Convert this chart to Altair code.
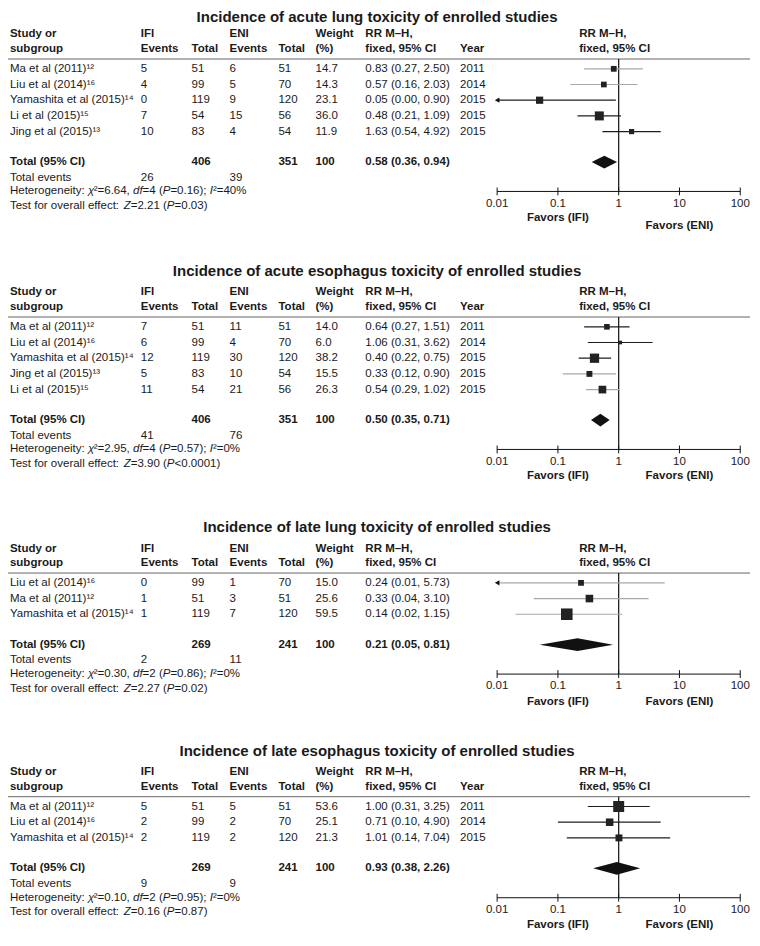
import altair as alt
import pandas as pd

# ---------------- data ----------------
titles = [
    "Incidence of acute lung toxicity of enrolled studies",
    "Incidence of acute esophagus toxicity of enrolled studies",
    "Incidence of late lung toxicity of enrolled studies",
    "Incidence of late esophagus toxicity of enrolled studies",
]

# panel 1: acute lung toxicity
al_study = ["Ma et al (2011)¹²", "Liu et al (2014)¹⁶", "Yamashita et al (2015)¹⁴", "Li et al (2015)¹⁵", "Jing et al (2015)¹³"]
al_ifi_events = [5, 4, 0, 7, 10]
al_ifi_total = [51, 99, 119, 54, 83]
al_eni_events = [6, 5, 9, 15, 4]
al_eni_total = [51, 70, 120, 56, 54]
al_weight = [14.7, 14.3, 23.1, 36.0, 11.9]
al_rr = [0.83, 0.57, 0.05, 0.48, 1.63]
al_lo = [0.27, 0.16, 0.00, 0.21, 0.54]
al_hi = [2.50, 2.03, 0.90, 1.09, 4.92]
al_year = [2011, 2014, 2015, 2015, 2015]
al_pooled = [0.58, 0.36, 0.94]
al_het = ["6.64", "4", "0.16", "40"]
al_z = ["2.21", "=0.03"]

# panel 2: acute esophagus toxicity
ae_study = ["Ma et al (2011)¹²", "Liu et al (2014)¹⁶", "Yamashita et al (2015)¹⁴", "Jing et al (2015)¹³", "Li et al (2015)¹⁵"]
ae_ifi_events = [7, 6, 12, 5, 11]
ae_ifi_total = [51, 99, 119, 83, 54]
ae_eni_events = [11, 4, 30, 10, 21]
ae_eni_total = [51, 70, 120, 54, 56]
ae_weight = [14.0, 6.0, 38.2, 15.5, 26.3]
ae_rr = [0.64, 1.06, 0.40, 0.33, 0.54]
ae_lo = [0.27, 0.31, 0.22, 0.12, 0.29]
ae_hi = [1.51, 3.62, 0.75, 0.90, 1.02]
ae_year = [2011, 2014, 2015, 2015, 2015]
ae_pooled = [0.50, 0.35, 0.71]
ae_het = ["2.95", "4", "0.57", "0"]
ae_z = ["3.90", "<0.0001"]

# panel 3: late lung toxicity
ll_study = ["Liu et al (2014)¹⁶", "Ma et al (2011)¹²", "Yamashita et al (2015)¹⁴"]
ll_ifi_events = [0, 1, 1]
ll_ifi_total = [99, 51, 119]
ll_eni_events = [1, 3, 7]
ll_eni_total = [70, 51, 120]
ll_weight = [15.0, 25.6, 59.5]
ll_rr = [0.24, 0.33, 0.14]
ll_lo = [0.01, 0.04, 0.02]
ll_hi = [5.73, 3.10, 1.15]
ll_year = None
ll_pooled = [0.21, 0.05, 0.81]
ll_het = ["0.30", "2", "0.86", "0"]
ll_z = ["2.27", "=0.02"]

# panel 4: late esophagus toxicity
le_study = ["Ma et al (2011)¹²", "Liu et al (2014)¹⁶", "Yamashita et al (2015)¹⁴"]
le_ifi_events = [5, 2, 2]
le_ifi_total = [51, 99, 119]
le_eni_events = [5, 2, 2]
le_eni_total = [51, 70, 120]
le_weight = [53.6, 25.1, 21.3]
le_rr = [1.00, 0.71, 1.01]
le_lo = [0.31, 0.10, 0.14]
le_hi = [3.25, 4.90, 7.04]
le_year = [2011, 2014, 2015]
le_pooled = [0.93, 0.38, 2.26]
le_het = ["0.10", "2", "0.95", "0"]
le_z = ["0.16", "=0.87"]

tick_values = [0.01, 0.1, 1, 10, 100]
tick_labels = ["0.01", "0.1", "1", "10", "100"]
favors = ["Favors (IFI)", "Favors (ENI)"]
favors_at = [0.1, 10]

# ---------------- layout / styles ----------------
W, H = 742, 928
SXR = W / 760.0
FONT = "Liberation Sans, Arial, Helvetica, sans-serif"
FS = 11.5
TXT = "#1a1a1a"
GRAY = "#a8a8a8"
DARK = "#1e1e1e"

COL = dict(study=2, ifi_ev=136, ifi_tot=188, eni_ev=227, eni_tot=277,
           weight=315, rr=366, year=463, fhead=585)
PANEL_TOP = [7, 270, 531, 759]
TITLE_Y = [9, 268, 529, 757]
ci_colors = [
    [GRAY, GRAY, DARK, DARK, DARK],
    [DARK, DARK, DARK, GRAY, GRAY],
    [GRAY, GRAY, GRAY],
    [DARK, DARK, DARK],
]
favor_dy = [(27, 35), (27, 27), (28, 28), (28, 28)]
TICK_DY = 12.5

# Arial / Liberation Sans advance widths (1/1000 em) for placing italic runs
AW = {" ": 278, "%": 889, "(": 333, ")": 333, ",": 278, ".": 278, ":": 278, ";": 278,
      "<": 584, "=": 584, "²": 333, "χ": 500,
      "H": 722, "T": 611, "P": 667, "I": 278, "Z": 611,
      "a": 556, "c": 500, "d": 556, "e": 556, "f": 278, "g": 556, "h": 556, "i": 222,
      "l": 222, "n": 556, "o": 556, "r": 333, "s": 500, "t": 278, "v": 500, "y": 500}


def tw(s):
    return sum(AW.get(ch, 556) for ch in s) * FS / 1000.0 / SXR


panels = [
    (al_study, al_ifi_events, al_ifi_total, al_eni_events, al_eni_total, al_weight, al_rr, al_lo, al_hi, al_year, al_pooled, al_het, al_z),
    (ae_study, ae_ifi_events, ae_ifi_total, ae_eni_events, ae_eni_total, ae_weight, ae_rr, ae_lo, ae_hi, ae_year, ae_pooled, ae_het, ae_z),
    (ll_study, ll_ifi_events, ll_ifi_total, ll_eni_events, ll_eni_total, ll_weight, ll_rr, ll_lo, ll_hi, ll_year, ll_pooled, ll_het, ll_z),
    (le_study, le_ifi_events, le_ifi_total, le_eni_events, le_eni_total, le_weight, le_rr, le_lo, le_hi, le_year, le_pooled, le_het, le_z),
]

texts, hrules, vrules, cis, squares, arrows, diamonds = [], [], [], [], [], [], []
axis_lines, axis_ticks, axis_text = [], [], []

for p, (study, ie, it, ee, et, wt, rr, lo, hi, yr, pooled, het, z) in enumerate(panels):
    T = PANEL_TOP[p]

    def add(x, y, t, s):
        texts.append(dict(x=x, y=y, text=t, style=s))

    def add_runs(x, y, runs):
        for t, s in runs:
            add(x, y, t, s)
            x += tw(t)

    add(378, TITLE_Y[p], titles[p], "title")
    h1, h2 = T + 20, T + 35
    add(COL["study"], h1, "Study or", "bold"); add(COL["study"], h2, "subgroup", "bold")
    add(COL["ifi_ev"], h1, "IFI", "bold"); add(COL["ifi_ev"], h2, "Events", "bold")
    add(COL["ifi_tot"], h2, "Total", "bold")
    add(COL["eni_ev"], h1, "ENI", "bold"); add(COL["eni_ev"], h2, "Events", "bold")
    add(COL["eni_tot"], h2, "Total", "bold")
    add(COL["weight"], h1, "Weight", "bold"); add(COL["weight"], h2, "(%)", "bold")
    add(COL["rr"], h1, "RR M–H,", "bold"); add(COL["rr"], h2, "fixed, 95% CI", "bold")
    if yr is not None:
        add(COL["year"], h2, "Year", "bold")
    add(COL["fhead"], h1, "RR M–H,", "bold"); add(COL["fhead"], h2, "fixed, 95% CI", "bold")

    line_y = T + 45
    hrules.append(dict(x=0, x2=760, y=line_y))

    y = line_y
    for i in range(len(study)):
        y = T + 55 + 16 * i
        add(COL["study"], y, study[i], "reg")
        add(COL["ifi_ev"], y, str(ie[i]), "reg")
        add(COL["ifi_tot"], y, str(it[i]), "reg")
        add(COL["eni_ev"], y, str(ee[i]), "reg")
        add(COL["eni_tot"], y, str(et[i]), "reg")
        add(COL["weight"], y, f"{wt[i]:.1f}", "reg")
        add(COL["rr"], y, f"{rr[i]:.2f} ({lo[i]:.2f}, {hi[i]:.2f})", "reg")
        if yr is not None:
            add(COL["year"], y, str(yr[i]), "reg")
        clipped = lo[i] <= 0.01
        cis.append(dict(lo=max(lo[i], 0.01), hi=hi[i], y=y, c=ci_colors[p][i]))
        squares.append(dict(rr=rr[i], y=y, w=wt[i]))
        if clipped:
            arrows.append(dict(x=0.01, y=y))

    ty = y + 31
    add(COL["study"], ty, "Total (95% CI)", "bold")
    add(COL["ifi_tot"], ty, str(sum(it)), "bold")
    add(COL["eni_tot"], ty, str(sum(et)), "bold")
    add(COL["weight"], ty, "100", "bold")
    add(COL["rr"], ty, f"{pooled[0]:.2f} ({pooled[1]:.2f}, {pooled[2]:.2f})", "bold")
    for xv, yy, y2 in [(pooled[1], ty, ty), (pooled[0], ty - 6.5, ty + 6.5), (pooled[2], ty, ty)]:
        diamonds.append(dict(x=xv, y=yy, y2=y2, panel=p))

    ey = ty + 16
    add(COL["study"], ey, "Total events", "reg")
    add(COL["ifi_ev"], ey, str(sum(ie)), "reg")
    add(COL["eni_ev"], ey, str(sum(ee)), "reg")
    hy = ey + 14
    add_runs(COL["study"], hy, [
        ("Heterogeneity: ", "reg"), ("χ", "ital"), (f"²={het[0]}, ", "reg"),
        ("df", "ital"), (f"={het[1]} (", "reg"), ("P", "ital"),
        (f"={het[2]}); ", "reg"), ("I", "ital"), (f"²={het[3]}%", "reg")])
    zy = hy + 15
    add_runs(COL["study"], zy, [
        ("Test for overall effect: ", "reg"), ("Z", "ital"), (f"={z[0]} (", "reg"),
        ("P", "ital"), (f"{z[1]})", "reg")])

    ay = hy
    vrules.append(dict(x=1, y=line_y, y2=ay))
    axis_lines.append(dict(lo=tick_values[0], hi=tick_values[-1], y=ay))
    for tv, tl in zip(tick_values, tick_labels):
        axis_ticks.append(dict(x=tv, y=ay - 4, y2=ay + 4))
        axis_text.append(dict(x=tv, y=ay + TICK_DY, text=tl, style="tick"))
    for k, (f, fx) in enumerate(zip(favors, favors_at)):
        axis_text.append(dict(x=fx, y=ay + favor_dy[p][k], text=f, style="favor"))

# ---------------- scales ----------------
XP = alt.Scale(domain=[0, 760], range=[0, W], nice=False, zero=False)
YP = alt.Scale(domain=[0, 946], range=[0, H], nice=False, zero=False)
XL = alt.Scale(type="log", domain=[0.01, 100], range=[501 * SXR, 750 * SXR], nice=False)


def yenc(f="y"):
    return alt.Y(f"{f}:Q", scale=YP, axis=None)


styles = {
    "title": dict(fontSize=15, fontWeight="bold", align="center"),
    "bold": dict(fontSize=FS, fontWeight="bold", align="left"),
    "reg": dict(fontSize=FS, align="left"),
    "ital": dict(fontSize=FS, fontStyle="italic", align="left"),
    "tick": dict(fontSize=11.5, align="center"),
    "favor": dict(fontSize=FS, fontWeight="bold", align="center"),
}

tdf = pd.DataFrame(texts)
adf = pd.DataFrame(axis_text)
layers = []
for s in ["title", "bold", "reg", "ital"]:
    layers.append(
        alt.Chart(tdf[tdf["style"] == s]).mark_text(font=FONT, baseline="middle", color=TXT, **styles[s])
        .encode(x=alt.X("x:Q", scale=XP, axis=None), y=yenc(), text="text:N")
    )
for s in ["tick", "favor"]:
    layers.append(
        alt.Chart(adf[adf["style"] == s]).mark_text(font=FONT, baseline="middle", color=TXT, **styles[s])
        .encode(x=alt.X("x:Q", scale=XL, axis=None), y=yenc(), text="text:N")
    )

layers.append(
    alt.Chart(pd.DataFrame(hrules)).mark_rule(color="#666666", strokeWidth=1)
    .encode(x=alt.X("x:Q", scale=XP, axis=None), x2="x2:Q", y=yenc())
)
layers.append(
    alt.Chart(pd.DataFrame(vrules)).mark_rule(color="#111111", strokeWidth=1.2)
    .encode(x=alt.X("x:Q", scale=XL, axis=None), y=yenc(), y2="y2:Q")
)
layers.append(
    alt.Chart(pd.DataFrame(cis)).mark_rule(strokeWidth=1.2)
    .encode(x=alt.X("lo:Q", scale=XL, axis=None), x2="hi:Q", y=yenc(),
            color=alt.Color("c:N", scale=None))
)
layers.append(
    alt.Chart(pd.DataFrame(squares)).mark_square(filled=True, opacity=1, color="#222222")
    .encode(x=alt.X("rr:Q", scale=XL, axis=None), y=yenc(),
            size=alt.Size("w:Q", scale=alt.Scale(domain=[0, 100], range=[0, 225]), legend=None))
)
layers.append(
    alt.Chart(pd.DataFrame(arrows)).mark_point(shape="triangle-left", filled=True, opacity=1, size=28, color="#111111")
    .encode(x=alt.X("x:Q", scale=XL, axis=None), y=yenc())
)
layers.append(
    alt.Chart(pd.DataFrame(diamonds)).mark_area(color="#111111", opacity=1)
    .encode(x=alt.X("x:Q", scale=XL, axis=None), y=yenc(), y2="y2:Q", detail="panel:N")
)
layers.append(
    alt.Chart(pd.DataFrame(axis_lines)).mark_rule(color="#111111", strokeWidth=1)
    .encode(x=alt.X("lo:Q", scale=XL, axis=None), x2="hi:Q", y=yenc())
)
layers.append(
    alt.Chart(pd.DataFrame(axis_ticks)).mark_rule(color="#111111", strokeWidth=1)
    .encode(x=alt.X("x:Q", scale=XL, axis=None), y=yenc(), y2="y2:Q")
)

chart = (
    alt.layer(*layers)
    .resolve_scale(x="independent", size="independent", color="independent")
    .properties(width=W, height=H, padding=0, autosize=alt.AutoSizeParams(type="none"))
    .configure_view(stroke=None)
)

chart.save("out.html", embed_options={"renderer": "svg", "actions": False})
